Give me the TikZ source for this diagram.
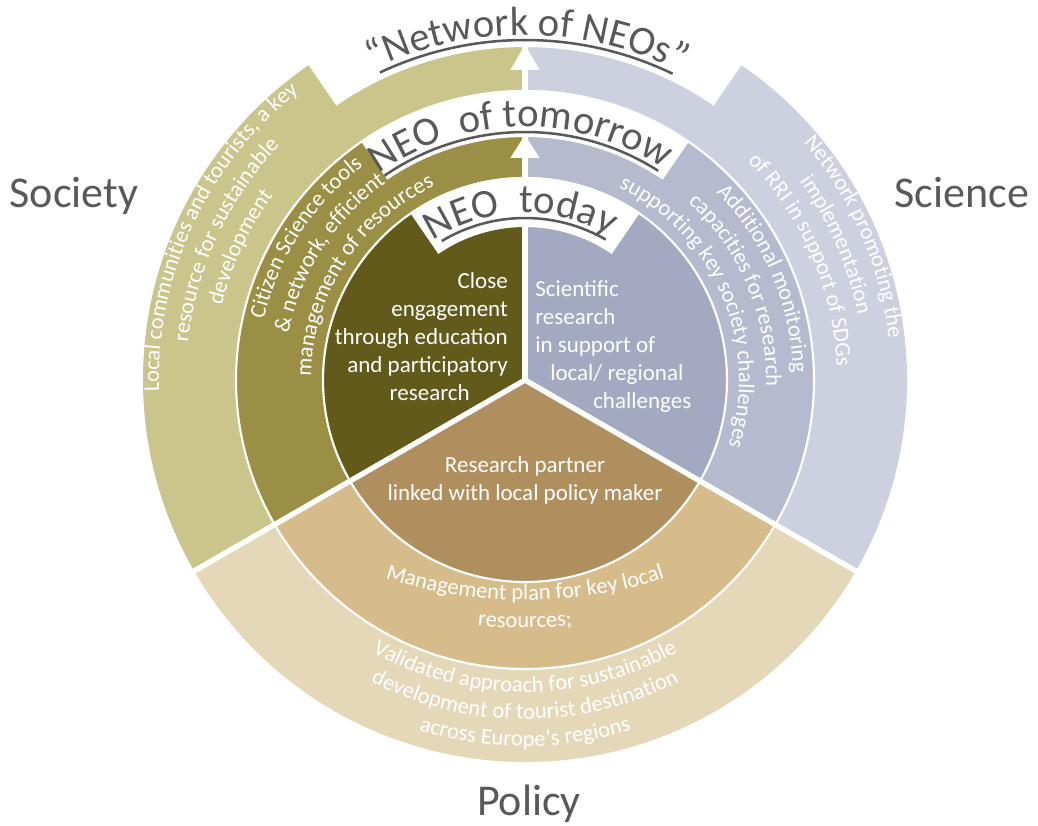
\documentclass[tikz,border=0pt]{standalone}
\usepackage{fontspec}
\setmainfont{Carlito}
\usetikzlibrary{decorations.text}
\definecolor{socIn}{RGB}{98,90,26}
\definecolor{socMid}{RGB}{154,143,69}
\definecolor{socOut}{RGB}{201,197,139}
\definecolor{sciIn}{RGB}{162,169,193}
\definecolor{sciMid}{RGB}{181,186,206}
\definecolor{sciOut}{RGB}{205,209,223}
\definecolor{polIn}{RGB}{176,143,95}
\definecolor{polMid}{RGB}{214,188,139}
\definecolor{polOut}{RGB}{229,216,185}
\definecolor{labgray}{RGB}{89,89,89}
\newcommand\ringtxt{\fontsize{16.9}{20}\selectfont\color{white}}
\newcommand\bigtxt{\fontsize{30.5}{36}\selectfont\color{labgray}}
\newcommand\arctext[4]{\path[decoration={text along path,text align=center,text={#4}},decorate] (#2:#1) arc[start angle=#2,end angle=#3,radius=#1];}
\newcommand\sectorfill[4]{\fill[#1] (0,0) -- (#2:#4) arc[start angle=#2,end angle=#3,radius=#4] -- cycle;}
\newcommand\tabfill[2]{\fill[white] (55.5:#1) arc[start angle=55.5,end angle=124.5,radius=#1] -- (124.5:#2) arc[start angle=124.5,end angle=55.5,radius=#2] -- cycle;}
\begin{document}
\begin{tikzpicture}[x=0.75pt,y=0.75pt,
  seclab/.style={font=\fontsize{33}{40}\selectfont, text=labgray, inner sep=0pt},
  innertxt/.style={font=\fontsize{17.25}{21}\selectfont, text=white, inner sep=0pt},
  gapline/.style={draw=white, line width=1.6pt},
  divider/.style={draw=white, line width=4pt},
  uline/.style={draw=labgray, line width=1.9pt}]
\fill[white] (-525,-445) rectangle (513,380);
\useasboundingbox (-525,-445) rectangle (513,380);
% sectors
\sectorfill{socOut}{90}{210}{382}
\sectorfill{socMid}{90}{210}{289}
\sectorfill{socIn}{90}{210}{202}
\sectorfill{sciOut}{-30}{90}{382}
\sectorfill{sciMid}{-30}{90}{289}
\sectorfill{sciIn}{-30}{90}{202}
\sectorfill{polOut}{210}{330}{382}
\sectorfill{polMid}{210}{330}{289}
\sectorfill{polIn}{210}{330}{202}
% label tabs
\tabfill{333}{400}
\tabfill{243}{290}
\tabfill{153}{203}
% ring gaps
\draw[gapline] (0,0) circle[radius=289];
\draw[gapline] (0,0) circle[radius=202];
% dividers
\coordinate (c) at (0,0);
\coordinate (dtop) at (90:400);
\coordinate (dleft) at (210:400);
\coordinate (dright) at (330:400);
\draw[divider] (c) -- (dtop);
\draw[divider] (c) -- (dleft);
\draw[divider] (c) -- (dright);
% arrowheads
\fill[white] (-14.7,310) -- (14.7,310) -- (0,335) -- cycle;
\fill[white] (-14.7,222) -- (14.7,222) -- (0,245) -- cycle;
% big labels
\arctext{167}{141.5}{41.5}{|\bigtxt|NEO {\hspace{6.8pt}}today}
\arctext{253}{141}{41}{|\bigtxt|NEO {\hspace{6.8pt}}of tomorrow}
\arctext{345}{139.6}{39.6}{|\bigtxt|“Network of NEOs”}
\draw[uline] (120.9:162) arc[start angle=120.9,end angle=60.1,radius=162];
\draw[uline] (124.5:248) arc[start angle=124.5,end angle=57.5,radius=248];
\draw[uline] (115.25:340) arc[start angle=115.25,end angle=64.25,radius=340];
% society rings
\arctext{366}{215}{95}{|\ringtxt|Local communities and tourists, a key}
\arctext{339}{215}{95}{|\ringtxt|resource for sustainable}
\arctext{312}{215}{95}{|\ringtxt|development}
\arctext{268}{202}{92}{|\ringtxt|Citizen Science tools}
\arctext{241}{202}{92}{|\ringtxt|{\&} network, efficient}
\arctext{214}{202}{92}{|\ringtxt|management of resources}
% science rings
\arctext{366}{78.5}{-31.5}{|\ringtxt|Network promoting the}
\arctext{339}{78.5}{-31.5}{|\ringtxt|implementation}
\arctext{312}{78.5}{-31.5}{|\ringtxt|of RRI in support of SDGs}
\arctext{268}{78}{-32}{|\ringtxt|Additional monitoring}
\arctext{241}{78}{-32}{|\ringtxt|capacities for research}
\arctext{214}{78}{-32}{|\ringtxt|supporting key society challenges}
% policy rings
\begin{scope}[shift={(0,236)}]
\arctext{456}{244}{296}{|\ringtxt|Management plan for key local}
\arctext{484}{255}{285}{|\ringtxt|resources;}
\end{scope}
\arctext{312}{200}{340}{|\ringtxt|Validated approach for sustainable}
\arctext{339}{200}{340}{|\ringtxt|development of tourist destination}
\arctext{366}{200}{340}{|\ringtxt|across Europe’s regions}
% inner texts
\node[innertxt, anchor=base east] (socin) at (-17,92) {\begin{tabular}[t]{@{}r@{}}Close\\engagement\\through education\\and participatory\\research\hspace*{28.5pt}\end{tabular}};
\node[innertxt, anchor=base west] (sciin) at (10,83.3) {\begin{tabular}[t]{@{}l@{}}Scientific\\research\\in support of\\\hspace*{11.25pt}local/ regional\\\hspace*{43.5pt}challenges\end{tabular}};
\node[innertxt, anchor=base] (polin) at (0,-92) {\begin{tabular}[t]{@{}c@{}}Research partner\\linked with local policy maker\end{tabular}};
% sector labels
\node[seclab, anchor=base] (society) at (-451,173) {Society};
\node[seclab, anchor=base] (science) at (437,173) {Science};
\node[seclab, anchor=base] (policy) at (4,-435) {Policy};
\end{tikzpicture}
\end{document}
